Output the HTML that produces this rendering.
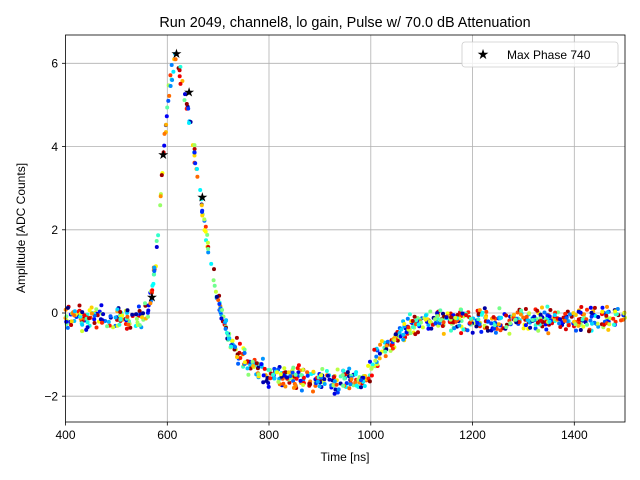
<!DOCTYPE html>
<html><head><meta charset="utf-8"><style>
html,body{margin:0;padding:0;background:#fff;}
svg{display:block;font-family:"Liberation Sans","DejaVu Sans",sans-serif;}
</style></head><body>
<svg id="s" width="640" height="480" xmlns="http://www.w3.org/2000/svg">
<rect width="640" height="480" fill="#fff"/>
<g stroke="#b0b0b0" stroke-width="0.8">
<line x1="167.3" y1="35" x2="167.3" y2="422"/>
<line x1="269" y1="35" x2="269" y2="422"/>
<line x1="370.8" y1="35" x2="370.8" y2="422"/>
<line x1="472.5" y1="35" x2="472.5" y2="422"/>
<line x1="574.3" y1="35" x2="574.3" y2="422"/>
<line x1="65.5" y1="63.3" x2="625" y2="63.3"/>
<line x1="65.5" y1="146.6" x2="625" y2="146.6"/>
<line x1="65.5" y1="229.8" x2="625" y2="229.8"/>
<line x1="65.5" y1="313" x2="625" y2="313"/>
<line x1="65.5" y1="396.2" x2="625" y2="396.2"/>
</g>
<g id="pts"></g>
<g id="stars" fill="#000"></g>
<rect x="65.5" y="35" width="559.5" height="387" fill="none" stroke="#000" stroke-width="0.8"/>
<g stroke="#000" stroke-width="0.8">
<line x1="65.5" y1="422" x2="65.5" y2="425.5"/><line x1="167.3" y1="422" x2="167.3" y2="425.5"/><line x1="269" y1="422" x2="269" y2="425.5"/><line x1="370.8" y1="422" x2="370.8" y2="425.5"/><line x1="472.5" y1="422" x2="472.5" y2="425.5"/><line x1="574.3" y1="422" x2="574.3" y2="425.5"/>
<line x1="62" y1="63.3" x2="65.5" y2="63.3"/><line x1="62" y1="146.6" x2="65.5" y2="146.6"/><line x1="62" y1="229.8" x2="65.5" y2="229.8"/><line x1="62" y1="313" x2="65.5" y2="313"/><line x1="62" y1="396.2" x2="65.5" y2="396.2"/>
</g>
<g font-size="12" fill="#000" text-anchor="middle">
<text x="65.5" y="439">400</text><text x="167.3" y="439">600</text><text x="269" y="439">800</text><text x="370.8" y="439">1000</text><text x="472.5" y="439">1200</text><text x="574.3" y="439">1400</text>
</g>
<g font-size="12" fill="#000" text-anchor="end">
<text x="58" y="67.5">6</text><text x="58" y="150.8">4</text><text x="58" y="234">2</text><text x="58" y="317.2">0</text><text x="58" y="400.4">−2</text>
</g>
<text x="345" y="461" font-size="12" text-anchor="middle">Time [ns]</text>
<text transform="translate(25,228) rotate(-90)" font-size="12" text-anchor="middle">Amplitude [ADC Counts]</text>
<text x="345" y="27" font-size="14.4" text-anchor="middle">Run 2049, channel8, lo gain, Pulse w/ 70.0 dB Attenuation</text>
<rect x="462" y="42" width="156" height="25" rx="3" fill="#fff" fill-opacity="0.8" stroke="#ccc" stroke-width="0.8"/>
<text id="lstar" x="483" y="59" font-size="14" text-anchor="middle">★</text>
<text x="507" y="59" font-size="12">Max Phase 740</text>
</svg>
<script>
var K=[[400,-0.1],[550,-0.1],[562,0.1],[570,0.5],[580,1.6],[592,3.8],[605,5.6],[617,6.15],[630,5.6],[645,4.6],[660,3.3],[675,1.9],[690,0.8],[705,0.05],[720,-0.55],[740,-1.0],[770,-1.3],[800,-1.48],[900,-1.65],[990,-1.6],[1002,-1.3],[1020,-0.95],[1050,-0.6],[1080,-0.3],[1110,-0.18],[1500,-0.15]];
function f(t){for(var i=0;i<K.length-1;i++){if(t<=K[i+1][0]){var a=K[i],b=K[i+1];return a[1]+(b[1]-a[1])*(t-a[0])/(b[0]-a[0]);}}return -0.15;}
var seed=7;function r(){seed=(seed*16807)%2147483647;return seed/2147483647;}
function jet(v){function c(x){return Math.max(0,Math.min(1,x));}var R=c(1.5-Math.abs(4*v-3)),G=c(1.5-Math.abs(4*v-2)),B=c(1.5-Math.abs(4*v-1));return "rgb("+Math.round(R*255)+","+Math.round(G*255)+","+Math.round(B*255)+")";}
function X(t){return 65.5+(t-400)*0.50864;}function Y(v){return 313-41.6*v;}
var g=document.getElementById("pts"),h="";
for(var i=0;i<1000;i++){var t=400+r()*1100;var n=(r()+r()+r()-1.5)*0.26;var v=f(t)+n;h+='<circle cx="'+X(t).toFixed(1)+'" cy="'+Y(v).toFixed(1)+'" r="2" fill="'+jet(r())+'"/>';}
g.innerHTML=h;
var S=[[570,0.4],[592,3.82],[618,6.25],[643,5.32],[669,2.8]],sh="";
S.forEach(function(p){sh+='<text x="'+X(p[0]).toFixed(1)+'" y="'+(Y(p[1])+5).toFixed(1)+'" font-size="13" text-anchor="middle">★</text>';});
document.getElementById("stars").innerHTML=sh;
</script>
</body></html>
